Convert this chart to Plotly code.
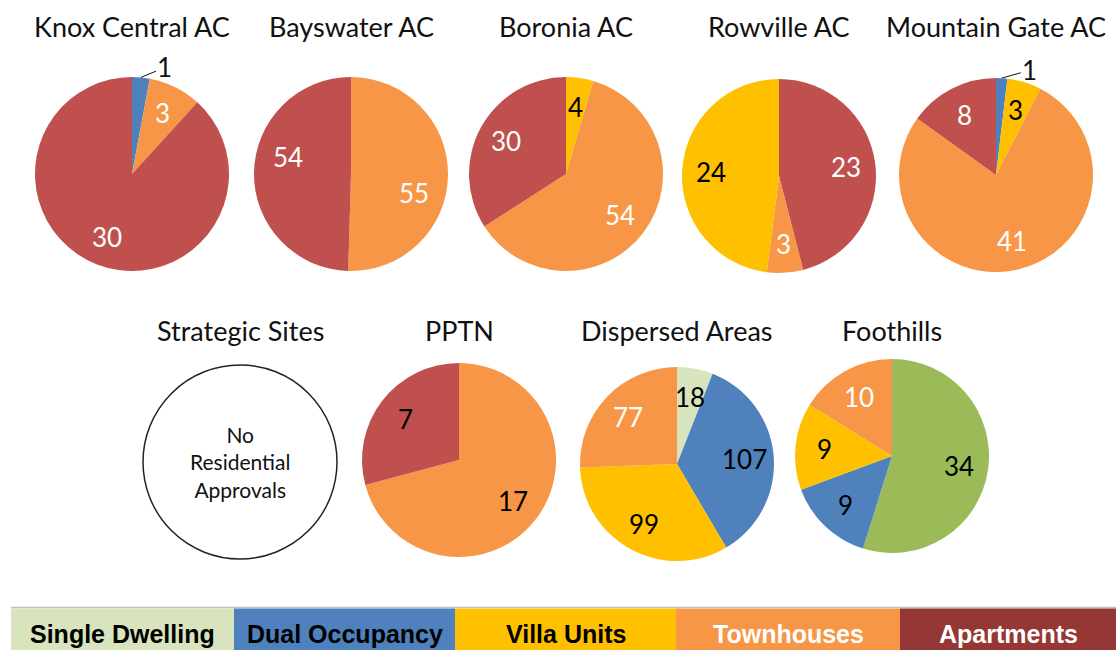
import math
import plotly.graph_objects as go

# ---------------- data ----------------
titles = ["Knox Central AC", "Bayswater AC", "Boronia AC", "Rowville AC",
          "Mountain Gate AC", "Strategic Sites", "PPTN", "Dispersed Areas", "Foothills"]

knox_cats = ["Dual Occupancy", "Townhouses", "Apartments"]
knox_vals = [1, 3, 30]
bays_cats = ["Townhouses", "Apartments"]
bays_vals = [55, 54]
boro_cats = ["Villa Units", "Townhouses", "Apartments"]
boro_vals = [4, 54, 30]
rowv_cats = ["Apartments", "Townhouses", "Villa Units"]
rowv_vals = [23, 3, 24]
mtg_cats = ["Dual Occupancy", "Villa Units", "Townhouses", "Apartments"]
mtg_vals = [1, 3, 41, 8]
strat_cats = []
strat_vals = []
pptn_cats = ["Townhouses", "Apartments"]
pptn_vals = [17, 7]
disp_cats = ["Single Dwelling", "Dual Occupancy", "Villa Units", "Townhouses"]
disp_vals = [18, 107, 99, 77]
foot_cats = ["Single Dwelling", "Dual Occupancy", "Villa Units", "Townhouses"]
foot_vals = [34, 9, 9, 10]

no_data_text = "No<br>Residential<br>Approvals"
legend_labels = ["Single Dwelling", "Dual Occupancy", "Villa Units", "Townhouses", "Apartments"]

all_cats = [knox_cats, bays_cats, boro_cats, rowv_cats, mtg_cats,
            strat_cats, pptn_cats, disp_cats, foot_cats]
all_vals = [knox_vals, bays_vals, boro_vals, rowv_vals, mtg_vals,
            strat_vals, pptn_vals, disp_vals, foot_vals]

# ---------------- style / layout ----------------
W, H = 1116, 650
slice_colors = {"Single Dwelling": "#D7E4BD", "Dual Occupancy": "#4F81BD",
                "Villa Units": "#FFC000", "Townhouses": "#F79646",
                "Apartments": "#C0504D"}
color_override = {8: {"Single Dwelling": "#9BBB59"}}
legend_fill = ["#D7E4BD", "#4F81BD", "#FFC000", "#F79646", "#953735"]
legend_font_col = ["black", "black", "black", "white", "white"]
legend_edges = [11, 234, 455, 676, 900, 1116]

# per-pie label colours
label_cols = [
    ["black", "white", "white"],
    ["white", "white"],
    ["black", "white", "white"],
    ["white", "white", "black"],
    ["black", "black", "white", "white"],
    [],
    ["black", "black"],
    ["black", "black", "black", "white"],
    ["black", "black", "black", "white"],
]
outside_offsets = {(0, 0): (24, -10), (4, 0): (28, -8)}
# small best-fit nudges (pixels) like the spreadsheet's label placement
label_nudge = {(1, 0): (-5, 18), (1, 1): (5, -16)}

centers = [(132, 174), (351, 174), (566, 174), (779, 176), (996, 175),
           (240, 462), (459, 460), (677, 464), (892, 456)]
R = 97
title_y = [27, 27, 27, 27, 27, 330, 330, 330, 330]
FONT = "Lato"
FS = 27
LFS = 26
LABEL_FRAC = 0.70


def px(x):
    return x / W


def py(y):
    return 1 - y / H


fig = go.Figure()
annotations = []
shapes = []

for i, (cats, vals) in enumerate(zip(all_cats, all_vals)):
    cx, cy = centers[i]
    annotations.append(dict(x=px(cx), y=py(title_y[i]), xref="paper", yref="paper",
                            text=titles[i], showarrow=False,
                            font=dict(family=FONT, size=FS, color="#111111"),
                            xanchor="center", yanchor="middle"))
    if not vals:
        shapes.append(dict(type="circle", xref="paper", yref="paper",
                           x0=px(cx - R), x1=px(cx + R), y0=py(cy + R), y1=py(cy - R),
                           line=dict(color="#222222", width=1.5), fillcolor="white"))
        annotations.append(dict(x=px(cx), y=py(cy), xref="paper", yref="paper",
                                text=no_data_text, showarrow=False,
                                font=dict(family=FONT, size=21, color="#111111"),
                                xanchor="center", yanchor="middle", align="center"))
        continue
    ov = color_override.get(i, {})
    cols = [ov.get(c, slice_colors[c]) for c in cats]
    fig.add_trace(go.Pie(
        labels=cats, values=vals, sort=False, direction="clockwise", rotation=0,
        marker=dict(colors=cols, line=dict(width=0)),
        textinfo="none", hoverinfo="label+value", showlegend=False,
        domain=dict(x=[px(cx - R), px(cx + R)], y=[py(cy + R), py(cy - R)]),
    ))
    total = sum(vals)
    cum = 0
    for j, v in enumerate(vals):
        a0 = cum / total * 360
        cum += v
        a1 = cum / total * 360
        mid = math.radians((a0 + a1) / 2)
        if (i, j) in outside_offsets:
            ox, oy = outside_offsets[(i, j)]
            ex = cx + R * math.sin(mid)
            ey = cy - R * math.cos(mid)
            annotations.append(dict(x=px(ex), y=py(ey), xref="paper", yref="paper",
                                    text=str(v), showarrow=True, arrowhead=0,
                                    arrowwidth=1, arrowcolor="#111111",
                                    ax=ox, ay=oy, standoff=0,
                                    font=dict(family=FONT, size=LFS, color="#111111")))
        else:
            nx, ny = label_nudge.get((i, j), (0, 0))
            lx = cx + LABEL_FRAC * R * math.sin(mid) + nx
            ly = cy - LABEL_FRAC * R * math.cos(mid) + ny
            annotations.append(dict(x=px(lx), y=py(ly), xref="paper", yref="paper",
                                    text=str(v), showarrow=False,
                                    font=dict(family=FONT, size=LFS, color=label_cols[i][j]),
                                    xanchor="center", yanchor="middle"))

# legend strip
shapes.append(dict(type="line", xref="paper", yref="paper",
                   x0=px(legend_edges[0]), x1=1, y0=py(607.5), y1=py(607.5),
                   line=dict(color="#BFBFC8", width=1.5)))
for k, lab in enumerate(legend_labels):
    x0, x1 = legend_edges[k], legend_edges[k + 1]
    shapes.append(dict(type="rect", xref="paper", yref="paper",
                       x0=px(x0), x1=px(x1), y0=py(H), y1=py(608.5),
                       line=dict(width=0), fillcolor=legend_fill[k]))
    annotations.append(dict(x=px((x0 + x1) / 2), y=py(634), xref="paper", yref="paper",
                            text="<b>" + lab + "</b>", showarrow=False,
                            font=dict(family="Liberation Sans, Arial", size=25,
                                      color=legend_font_col[k]),
                            xanchor="center", yanchor="middle"))

fig.update_layout(width=W, height=H, margin=dict(l=0, r=0, t=0, b=0),
                  paper_bgcolor="white", plot_bgcolor="white",
                  annotations=annotations, shapes=shapes)

fig.write_html("out.html", config={"displayModeBar": False},
               post_script="document.body.style.margin='0';")
